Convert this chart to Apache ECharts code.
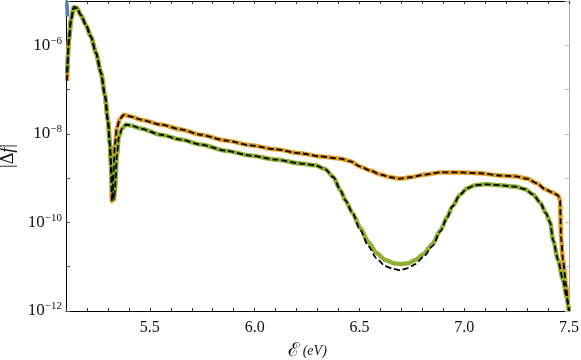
<!DOCTYPE html>
<html><head><meta charset="utf-8">
<script src="https://cdn.jsdelivr.net/npm/echarts@6/dist/echarts.min.js"></script>
<style>html,body{margin:0;padding:0;background:#fff}#c{width:581px;height:360px}</style>
</head><body><div id="c"></div>
<script>
// Energies (eV) and log10|Δf|
const eOrange = [5.105,5.114,5.124,5.138,5.152,5.171,5.195,5.219,5.243,5.267,5.286,5.300,5.310,5.314,5.319,5.324,5.333,5.343,5.357,5.376,5.410,5.457,5.552,5.648,5.743,5.862,5.981,6.100,6.219,6.314,6.410,6.457,6.505,6.552,6.600,6.648,6.695,6.743,6.814,6.886,6.981,7.076,7.171,7.243,7.300,7.348,7.386,7.419,7.448,7.457,7.462,7.471,7.486,7.495,7.500];
const logOrange = [-6.80,-5.90,-5.41,-5.14,-5.16,-5.32,-5.54,-5.81,-6.17,-6.62,-7.14,-7.70,-8.26,-8.71,-9.52,-9.16,-8.26,-7.86,-7.66,-7.57,-7.61,-7.68,-7.79,-7.90,-8.02,-8.15,-8.26,-8.35,-8.44,-8.51,-8.56,-8.62,-8.74,-8.83,-8.92,-8.98,-9.01,-8.98,-8.92,-8.87,-8.87,-8.89,-8.94,-8.96,-9.01,-9.12,-9.25,-9.32,-9.39,-9.50,-10.33,-10.85,-11.41,-11.86,-12.0];

const eGreen = [5.105,5.114,5.124,5.138,5.152,5.171,5.195,5.219,5.243,5.267,5.286,5.300,5.310,5.314,5.319,5.324,5.329,5.333,5.343,5.352,5.367,5.386,5.410,5.457,5.552,5.648,5.743,5.862,5.981,6.100,6.219,6.290,6.338,6.376,6.410,6.433,6.467,6.505,6.543,6.581,6.624,6.662,6.695,6.733,6.767,6.805,6.848,6.886,6.919,6.943,6.981,7.014,7.052,7.100,7.171,7.243,7.290,7.329,7.362,7.390,7.410,7.424,7.448,7.471,7.490,7.500];
const logGreen = [-6.62,-5.86,-5.41,-5.14,-5.16,-5.32,-5.54,-5.81,-6.17,-6.62,-7.14,-7.70,-8.26,-8.60,-8.94,-9.28,-9.48,-9.28,-8.49,-8.08,-7.88,-7.79,-7.81,-7.88,-8.02,-8.13,-8.24,-8.38,-8.49,-8.58,-8.67,-8.71,-8.80,-8.98,-9.28,-9.50,-9.79,-10.13,-10.45,-10.69,-10.85,-10.92,-10.94,-10.92,-10.85,-10.72,-10.49,-10.18,-9.88,-9.64,-9.37,-9.23,-9.16,-9.14,-9.16,-9.19,-9.25,-9.37,-9.55,-9.79,-10.00,-10.40,-10.85,-11.30,-11.71,-12.0];
// dashed reference for the lower curve (deviates near 6.7 eV)
const logGreenRef = [-6.62,-5.86,-5.41,-5.14,-5.16,-5.32,-5.54,-5.81,-6.17,-6.62,-7.14,-7.70,-8.26,-8.60,-8.94,-9.28,-9.48,-9.28,-8.49,-8.08,-7.88,-7.79,-7.81,-7.88,-8.02,-8.13,-8.24,-8.38,-8.49,-8.58,-8.67,-8.71,-8.80,-8.98,-9.28,-9.50,-9.79,-10.18,-10.54,-10.81,-10.99,-11.05,-11.08,-11.03,-10.94,-10.78,-10.54,-10.20,-9.89,-9.64,-9.37,-9.23,-9.16,-9.14,-9.16,-9.19,-9.25,-9.37,-9.55,-9.79,-10.00,-10.40,-10.85,-11.30,-11.71,-12.0];

const eBlue = [5.100,5.104,5.107];
const logBlue = [-4.5,-5.0,-5.35];

const xTickLabels = [5.5,6.0,6.5,7.0,7.5];
const yTickExps = [-12,-10,-8,-6];

const pts = (xs, ls) => xs.map((x,i)=>[x, Math.pow(10, ls[i])]);
const serif = "'Liberation Serif', 'Times New Roman', serif";

const chart = echarts.init(document.getElementById('c'), null, {renderer:'canvas'});
const lineBase = {type:'line', showSymbol:false, symbol:'none', smooth:0.25, smoothMonotone:'x', clip:true, animation:false};
chart.setOption({
  animation:false,
  textStyle:{fontFamily:serif},
  grid:{left:66, right:12, top:1, bottom:49, containLabel:false, outerBoundsMode:'none'},
  xAxis:[{
    type:'value', min:5.1, max:7.5, interval:0.1, position:'bottom',
    axisLine:{lineStyle:{color:'#000', width:1}},
    axisTick:{inside:true, length:3, lineStyle:{color:'#333'}},
    splitLine:{show:false},
    axisLabel:{color:'#111', fontFamily:serif, fontSize:16, margin:9,
      formatter:v=>{ const k = xTickLabels.find(t=>Math.abs(t-v)<1e-6); return k===undefined?'':k.toFixed(1);} },
    name:'{e|ℰ}{u|\u00a0(eV)}', nameLocation:'middle', nameGap:31,
    nameTextStyle:{padding:[0,20,0,0], rich:{e:{fontFamily:serif, fontSize:19, color:'#111'}, u:{fontFamily:serif, fontStyle:'italic', fontSize:14, color:'#111'}}}
  },{
    type:'value', min:5.1, max:7.5, interval:0.1, position:'top',
    axisLine:{lineStyle:{color:'#000', width:1}},
    axisTick:{inside:true, length:3, lineStyle:{color:'#333'}},
    axisLabel:{show:false}, splitLine:{show:false}
  }],
  yAxis:[{
    type:'log', logBase:10, min:1e-12, max:1e-5, interval:1, position:'left',
    axisLine:{show:true, lineStyle:{color:'#000', width:1}},
    axisTick:{inside:true, length:4, lineStyle:{color:'#555'}},
    splitLine:{show:false}, minorSplitLine:{show:false},
    axisLabel:{margin:4, formatter:v=>{ const ex=Math.round(Math.log10(v)); return yTickExps.includes(ex)?'{b|10}{s|−'+(-ex)+'}':''; },
      rich:{b:{fontFamily:serif, fontSize:17, color:'#111'}, s:{fontFamily:serif, fontSize:11, color:'#111', padding:[0,0,9,0]}}},
    name:'|Δ{i|f}|', nameLocation:'middle', nameGap:47, nameRotate:90,
    nameTextStyle:{fontFamily:serif, fontSize:18, color:'#111', rich:{i:{fontFamily:serif, fontStyle:'italic', fontSize:18, color:'#111'}}}
  },{
    type:'log', logBase:10, min:1e-12, max:1e-5, interval:1, position:'right',
    axisLine:{show:true, lineStyle:{color:'#aaa', width:1}},
    axisTick:{inside:true, length:4, lineStyle:{color:'#bbb'}},
    axisLabel:{show:false}, splitLine:{show:false}
  }],
  series:[
    Object.assign({}, lineBase, {data:pts(eBlue, logBlue), lineStyle:{color:'#5E81B5', width:4}}),
    Object.assign({}, lineBase, {data:pts(eOrange, logOrange), lineStyle:{color:'#E19C24', width:4.5}}),
    Object.assign({}, lineBase, {data:pts(eGreen, logGreen), lineStyle:{color:'#8FB032', width:4.5}}),
    Object.assign({}, lineBase, {data:pts(eOrange, logOrange), lineStyle:{color:'#000', width:1.8, type:[6,3]}}),
    Object.assign({}, lineBase, {data:pts(eGreen, logGreenRef), lineStyle:{color:'#000', width:1.8, type:[6,3]}})
  ]
});
</script></body></html>
